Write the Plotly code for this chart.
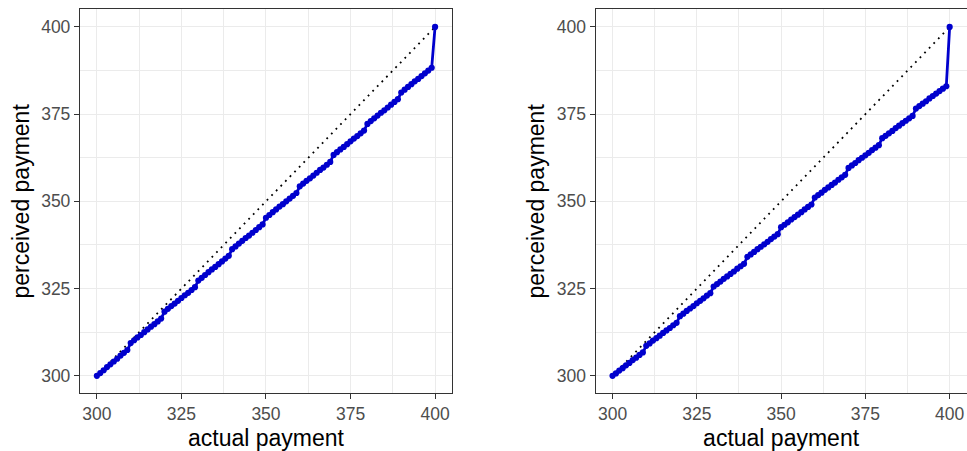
import plotly.graph_objects as go

actual = list(range(300, 401))

perceived_left = [
    300.0, 300.8, 301.6, 302.5, 303.3, 304.1, 304.9, 305.8, 306.6, 307.4,
    309.4, 310.2, 311.0, 311.7, 312.5, 313.3, 314.1, 314.8, 315.6, 316.4,
    318.4, 319.2, 320.0, 320.7, 321.5, 322.3, 323.1, 323.8, 324.6, 325.4,
    327.3, 328.1, 328.9, 329.7, 330.5, 331.2, 332.0, 332.8, 333.6, 334.4,
    336.3, 337.1, 337.9, 338.7, 339.5, 340.2, 341.0, 341.8, 342.6, 343.4,
    345.3, 346.1, 346.9, 347.7, 348.5, 349.2, 350.0, 350.8, 351.6, 352.4,
    354.3, 355.1, 355.9, 356.6, 357.4, 358.2, 359.0, 359.7, 360.5, 361.3,
    363.3, 364.1, 364.9, 365.6, 366.4, 367.2, 368.0, 368.7, 369.5, 370.3,
    372.2, 373.0, 373.8, 374.6, 375.4, 376.1, 376.9, 377.7, 378.5, 379.3,
    381.2, 382.0, 382.8, 383.6, 384.4, 385.1, 385.9, 386.7, 387.5, 388.3,
    400.0,
]

perceived_right = [
    300.0, 300.7, 301.5, 302.2, 303.0, 303.7, 304.5, 305.2, 306.0, 306.7,
    308.6, 309.3, 310.1, 310.8, 311.5, 312.3, 313.0, 313.7, 314.5, 315.2,
    317.1, 317.8, 318.6, 319.3, 320.0, 320.8, 321.5, 322.2, 323.0, 323.7,
    325.6, 326.3, 327.0, 327.8, 328.5, 329.2, 329.9, 330.7, 331.4, 332.1,
    334.1, 334.8, 335.5, 336.3, 337.0, 337.7, 338.4, 339.2, 339.9, 340.6,
    342.6, 343.3, 344.0, 344.8, 345.5, 346.2, 346.9, 347.7, 348.4, 349.1,
    351.1, 351.8, 352.5, 353.3, 354.0, 354.7, 355.4, 356.2, 356.9, 357.6,
    359.6, 360.3, 361.0, 361.8, 362.5, 363.2, 363.9, 364.7, 365.4, 366.1,
    368.1, 368.8, 369.5, 370.2, 371.0, 371.7, 372.4, 373.1, 373.8, 374.5,
    376.6, 377.3, 378.0, 378.7, 379.5, 380.2, 380.9, 381.6, 382.3, 383.0,
    400.0,
]

diag = [300, 400]
tick_vals = [300, 325, 350, 375, 400]
tick_text = ["300", "325", "350", "375", "400"]

BLUE = "#0000CD"
FONT = "Liberation Sans"

fig = go.Figure()

for perc, xa, ya in [(perceived_left, "x", "y"), (perceived_right, "x2", "y2")]:
    fig.add_trace(go.Scatter(
        x=diag, y=diag, mode="lines", xaxis=xa, yaxis=ya,
        line=dict(color="black", width=1.8, dash="1.8px,4.8px"),
        showlegend=False, hoverinfo="skip",
    ))
    fig.add_trace(go.Scatter(
        x=actual, y=perc, mode="lines+markers", xaxis=xa, yaxis=ya,
        line=dict(color=BLUE, width=2.8),
        marker=dict(color=BLUE, size=6.2),
        showlegend=False,
    ))

axis_common = dict(
    range=[295, 405],
    tickvals=tick_vals, ticktext=tick_text,
    showgrid=True, gridcolor="#EBEBEB", gridwidth=1.3,
    minor=dict(dtick=12.5, tick0=300, showgrid=True, gridcolor="#EBEBEB", gridwidth=0.7, ticks=""),
    zeroline=False,
    showline=True, mirror=True, linecolor="#333333", linewidth=1.2,
    ticks="outside", ticklen=5, tickwidth=1.2, tickcolor="#333333",
    tickfont=dict(family=FONT, size=17.5, color="#4D4D4D"),
)

title_font = dict(family=FONT, size=23, color="black")
y_dom = [0.128, 0.979]

fig.update_layout(
    width=967, height=451,
    margin=dict(l=0, r=0, t=0, b=0),
    paper_bgcolor="white", plot_bgcolor="white",
    font=dict(family=FONT),
    xaxis=dict(domain=[0.0827, 0.4674], anchor="y",
               title=dict(text="actual payment", font=title_font, standoff=6),
               **axis_common),
    yaxis=dict(domain=y_dom, anchor="x",
               title=dict(text="perceived payment", font=title_font, standoff=5),
               **axis_common),
    xaxis2=dict(domain=[0.616, 0.9995], anchor="y2",
                title=dict(text="actual payment", font=title_font, standoff=6),
                **axis_common),
    yaxis2=dict(domain=y_dom, anchor="x2",
                title=dict(text="perceived payment", font=title_font, standoff=5),
                **axis_common),
)

fig.write_html("out.html")
